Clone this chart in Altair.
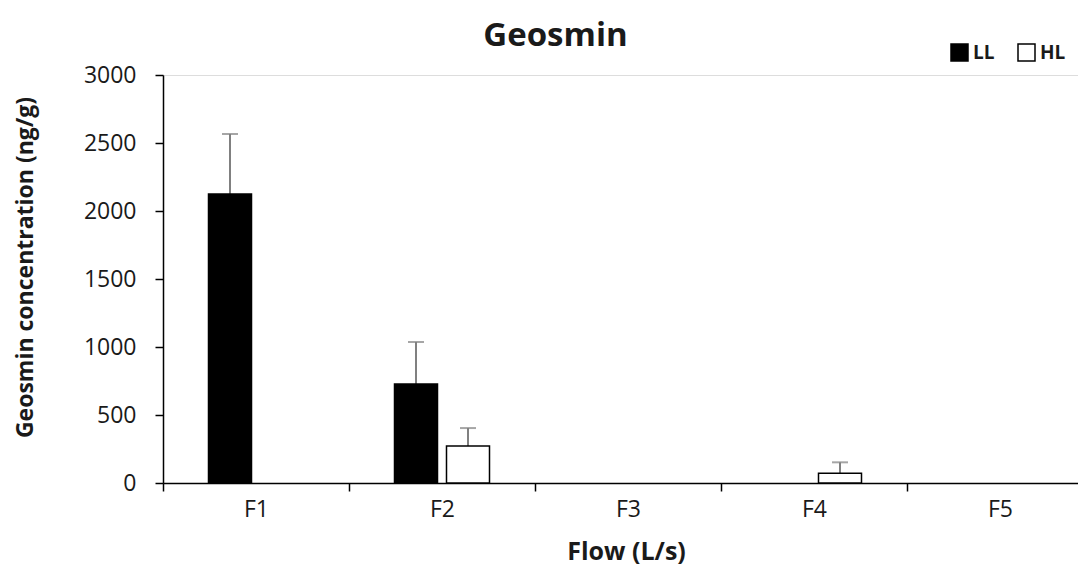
import altair as alt
import pandas as pd

categories = ["F1", "F2", "F3", "F4", "F5"]
series = ["LL", "HL"]
ll_values = [2125, 728, 0, 0, 0]
ll_errors = [441, 309, 0, 0, 0]
hl_values = [0, 272, 0, 72, 0]
hl_errors = [0, 132, 0, 80, 0]
y_ticks = [0, 500, 1000, 1500, 2000, 2500, 3000]

rows = []
for i, c in enumerate(categories):
    rows.append(dict(flow=c, series="LL", value=ll_values[i], err=ll_errors[i]))
    rows.append(dict(flow=c, series="HL", value=hl_values[i], err=hl_errors[i]))
df = pd.DataFrame(rows)
df["top"] = df["value"] + df["err"]

FONT = "Open Sans"
TXT = "#1a1a1a"

x_enc = alt.X(
    "flow:N",
    sort=categories,
    scale=alt.Scale(domain=categories, range=[0, 930], paddingInner=0, paddingOuter=0),
    axis=alt.Axis(
        title="Flow (L/s)",
        labelAngle=0,
        tickBand="extent",
        tickSize=8,
        tickWidth=1.5,
        tickColor="black",
        domainColor="black",
        domainWidth=1.5,
        labelPadding=7,
        labelFontSize=23,
        labelColor=TXT,
        labelFont=FONT,
        titleFont=FONT,
        titleFontSize=25,
        titleFontWeight="bold",
        titleColor=TXT,
        titleX=463,
        titleY=76,
        titleBaseline="alphabetic",
        titleAlign="center",
    ),
)
xoff_enc = alt.XOffset(
    "series:N",
    sort=series,
    scale=alt.Scale(domain=series, paddingInner=0.173, paddingOuter=0.875),
)
y_axis = alt.Axis(
    title="Geosmin concentration (ng/g)",
    values=y_ticks,
    format="d",
    grid=False,
    tickSize=8,
    tickWidth=1.5,
    tickColor="black",
    domainColor="black",
    domainWidth=1.5,
    labelPadding=19,
    labelFontSize=23,
    labelColor=TXT,
    labelFont=FONT,
    titleFont=FONT,
    titleFontSize=23,
    titleFontWeight="bold",
    titleColor=TXT,
    titleAngle=270,
    titleX=-138,
    titleY=192,
    titleAlign="center",
    titleBaseline="middle",
)
y_scale = alt.Scale(domain=[0, 3000], nice=False, zero=True)

bars = alt.Chart(df).transform_filter("datum.value > 0").mark_bar(stroke="black", strokeWidth=1.5).encode(
    x=x_enc,
    xOffset=xoff_enc,
    y=alt.Y("value:Q", scale=y_scale, axis=y_axis),
    fill=alt.Fill(
        "series:N",
        sort=series,
        scale=alt.Scale(domain=series, range=["#000000", "#ffffff"]),
        legend=alt.Legend(
            title=None,
            orient="none",
            legendX=787,
            legendY=-32,
            direction="horizontal",
            symbolType="square",
            symbolSize=289,
            symbolStrokeColor="black",
            symbolStrokeWidth=1.5,
            symbolOpacity=1,
            labelFontSize=19,
            labelFontWeight="bold",
            labelFont=FONT,
            labelColor=TXT,
            labelOffset=4,
            columnPadding=20,
            padding=0,
        ),
    ),
)

err_base = alt.Chart(df).transform_filter("datum.err > 0")
rules = err_base.mark_rule(color="#808080", strokeWidth=2).encode(
    x=x_enc,
    xOffset=xoff_enc,
    y=alt.Y("value:Q", scale=y_scale, axis=y_axis),
    y2="top:Q",
)
caps = err_base.mark_tick(color="#808080", thickness=2, size=16, orient="horizontal").encode(
    x=x_enc,
    xOffset=xoff_enc,
    y=alt.Y("top:Q", scale=y_scale, axis=y_axis),
)

chart = (
    alt.layer(rules, caps, bars)
    .properties(
        width=915,
        height=408,
        autosize=alt.AutoSizeParams(type="none"),
        padding={"left": 155, "top": 67, "right": 0, "bottom": 84},
        title=alt.TitleParams(
            "Geosmin",
            font=FONT,
            fontSize=33,
            fontWeight="bold",
            color=TXT,
            anchor="middle",
            frame="group",
            dx=-65,
            dy=36,
            offset=0,
            baseline="alphabetic",
        ),
    )
    .configure_view(stroke=None)
    .configure(background="white")
)

chart.save("out.html", embed_options={"renderer": "svg", "actions": False})
